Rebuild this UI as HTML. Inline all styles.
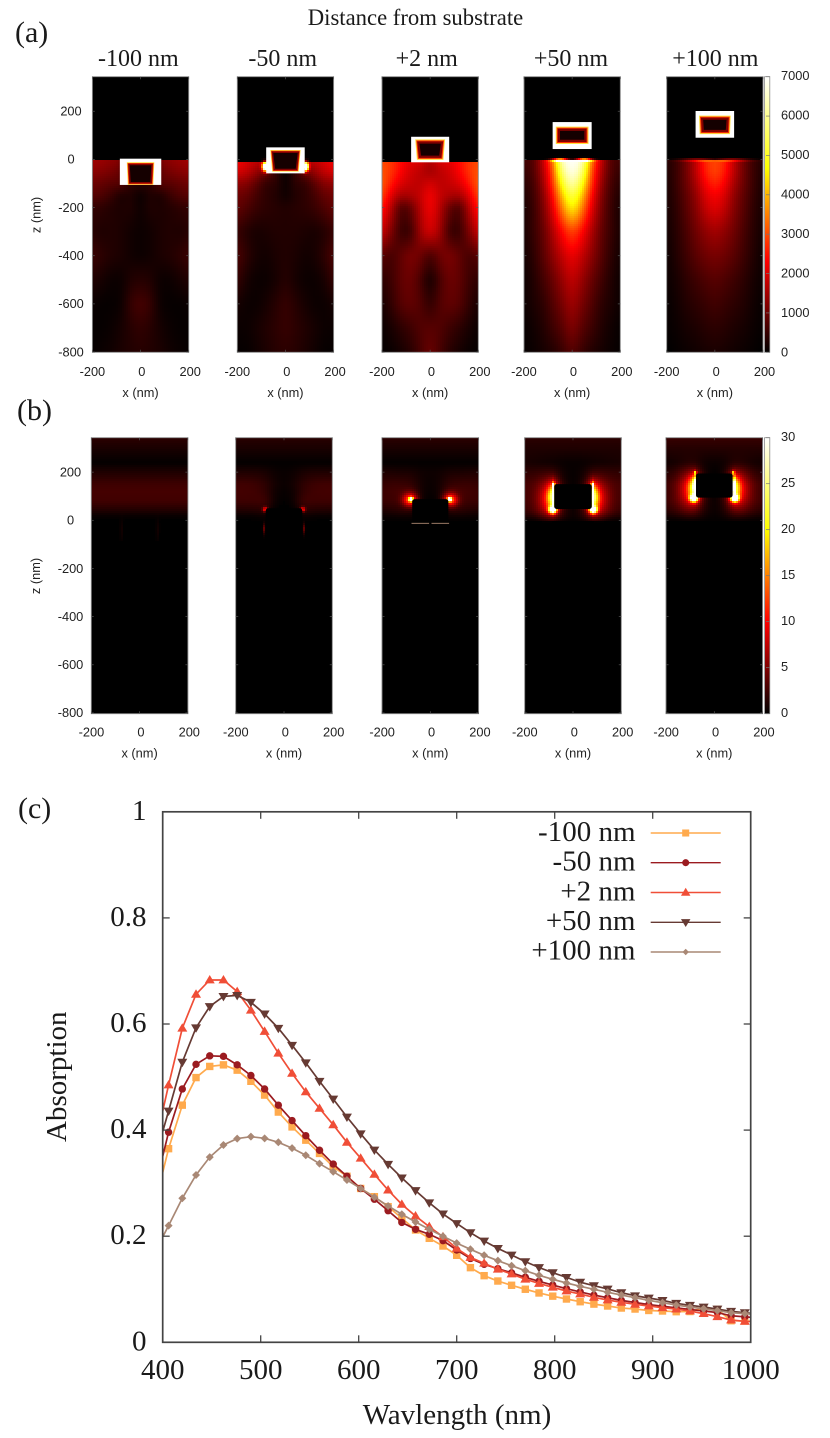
<!DOCTYPE html>
<html lang="en">
<head>
<meta charset="utf-8">
<title>Distance from substrate – field maps and absorption</title>
<style>
html,body{margin:0;padding:0;background:#fff;}
svg{display:block;}
.serif{font-family:"Liberation Serif",serif;fill:#1a1a1a;}
.sans{font-family:"Liberation Sans",sans-serif;fill:#222;font-size:12.8px;}
</style>
</head>
<body>
<svg id="figure" xmlns="http://www.w3.org/2000/svg" width="830" height="1438" viewBox="0 0 830 1438">
  <rect width="830" height="1438" fill="#fff"/>
  <text class="serif" x="415.5" y="25" font-size="22.7" text-anchor="middle">Distance from substrate</text>
  <text class="serif" x="15" y="42" font-size="30">(a)</text>
  <text class="serif" x="17" y="420" font-size="30">(b)</text>
  <text class="serif" x="18" y="818" font-size="30">(c)</text>
  <text class="serif" x="138.3" y="66" font-size="24" text-anchor="middle">-100 nm</text>
  <text class="serif" x="282.7" y="66" font-size="24" text-anchor="middle">-50 nm</text>
  <text class="serif" x="426.7" y="66" font-size="24" text-anchor="middle">+2 nm</text>
  <text class="serif" x="571" y="66" font-size="24" text-anchor="middle">+50 nm</text>
  <text class="serif" x="715.3" y="66" font-size="24" text-anchor="middle">+100 nm</text>
  <text class="sans" transform="translate(40.5,215) rotate(-90)" text-anchor="middle">z (nm)</text>
  <text class="sans" transform="translate(40,576) rotate(-90)" text-anchor="middle">z (nm)</text>
  <text class="serif" transform="translate(66,1076.7) rotate(-90)" font-size="29" text-anchor="middle">Absorption</text>
  <text class="serif" x="457" y="1424" font-size="29" text-anchor="middle">Wavlength (nm)</text>
  <text class="serif" x="635.5" y="841" font-size="29" text-anchor="end">-100 nm</text>
  <text class="serif" x="635.5" y="870.6" font-size="29" text-anchor="end">-50 nm</text>
  <text class="serif" x="635.5" y="900.3" font-size="29" text-anchor="end">+2 nm</text>
  <text class="serif" x="635.5" y="930" font-size="29" text-anchor="end">+50 nm</text>
  <text class="serif" x="635.5" y="959.6" font-size="29" text-anchor="end">+100 nm</text>
  <g id="heatmaps"></g>
  <g id="spectra"></g>
</svg>
<script>
/* ---------- Absorption spectra (panel c) ---------- */
const wavelengths = [392,406,420,434,448,462,476,490,504,518,532,546,560,574,588,602,616,630,644,658,672,686,700,714,728,742,756,770,784,798,812,826,840,854,868,882,896,910,924,938,952,966,980,994,1008];
const absMinus100 = [.26,.365,.447,.499,.52,.523,.513,.492,.466,.434,.406,.381,.356,.331,.313,.29,.2745,.2557,.234,.2117,.196,.1815,.164,.1407,.1256,.1155,.1075,.1,.093,.087,.0816,.0765,.072,.0684,.0646,.0627,.06,.059,.0577,.058,.065,.062,.0407,.04,.039];
const absMinus50 = [.29,.396,.4775,.524,.54,.539,.523,.503,.4775,.447,.418,.3895,.362,.336,.313,.29,.2697,.248,.226,.213,.2036,.1916,.174,.158,.147,.1388,.131,.1226,.115,.108,.101,.095,.089,.084,.079,.075,.071,.068,.065,.062,.059,.056,.05,.048,.046];
const absPlus2 = [.37,.485,.592,.656,.683,.683,.661,.626,.586,.545,.507,.472,.441,.41,.377,.347,.3166,.287,.26,.238,.218,.199,.177,.16,.149,.1377,.1287,.119,.111,.1037,.0967,.091,.0848,.0797,.0754,.0716,.0684,.0652,.0627,.059,.054,.0483,.042,.0396,.039];
const absPlus50 = [.345,.436,.528,.593,.633,.652,.654,.641,.619,.592,.56,.527,.492,.4586,.4247,.393,.3625,.3355,.31,.286,.263,.242,.224,.2066,.191,.177,.1646,.152,.141,.1312,.1224,.1134,.1067,.1005,.0936,.0878,.0835,.079,.0735,.0697,.0665,.0627,.0584,.0558,.053];
const absPlus100 = [.17,.22,.2715,.3154,.349,.372,.384,.3876,.3845,.377,.366,.3526,.3367,.3216,.306,.29,.2735,.257,.2414,.2268,.213,.2,.187,.1753,.164,.1539,.1444,.135,.1263,.1188,.1118,.1055,.0999,.0943,.0892,.0841,.079,.0747,.0703,.0665,.0633,.0596,.0558,.054,.052];
const xTickValues = [400,500,600,700,800,900,1000];
const yTickValues = [0,0.2,0.4,0.6,0.8,1];
const yTickLabels = ["0","0.2","0.4","0.6","0.8","1"];

/* ---------- Shared heatmap axes ---------- */
const fieldColumnsNm = [0,40,80,120,160,200];
const heatXTicks = [-200,0,200];
const heatZTicks = [200,0,-200,-400,-600,-800];
const colorbarTicksA = [0,1000,2000,3000,4000,5000,6000,7000];
const colorbarTicksB = [0,5,10,15,20,25,30];

/* ---------- Panel (a): |E|^2 in substrate, colour-bar units, rows follow zRowsA, columns follow fieldColumnsNm ---------- */
const zRowsA = [0,-50,-100,-150,-200,-300,-400,-500,-600,-700,-800];
const fieldAMinus100 = [
 [0,0,1200,1300,1400,1500],[0,0,900,1100,1200,1300],[400,400,800,800,900,1000],[50,300,200,500,700,800],
 [100,300,250,300,400,450],[100,150,250,300,250,350],[100,150,250,300,400,550],[350,300,100,100,200,300],
 [650,500,100,50,50,100],[450,350,200,100,50,50],[350,300,250,150,100,50]];
const fieldAMinus50 = [
 [0,0,1800,1800,2000,2300],[0,500,1000,1400,1800,2000],[50,400,400,800,1200,1300],[100,300,400,600,900,1000],
 [300,350,400,500,700,900],[300,300,250,200,300,500],[300,250,150,200,400,700],[350,200,100,100,200,500],
 [500,350,200,100,100,200],[500,400,300,200,100,100],[400,350,250,150,50,50]];
const fieldAPlus2 = [
 [1600,2100,2100,2400,2800,3000],[1400,1700,1900,2300,2800,3100],[2000,1700,1800,2000,2500,3200],[2300,1800,1600,1500,2000,3000],
 [2300,1700,900,600,1600,2600],[2000,1500,500,450,1100,1900],[600,1000,1150,900,600,800],[120,650,1000,900,550,400],
 [400,750,900,800,450,200],[800,750,550,400,220,80],[1000,650,350,200,80,40]];
const fieldAPlus50 = [
 [7000,6800,3400,1800,700,600],[7000,6000,3000,1600,700,450],[6500,5000,2800,1400,600,350],[5500,4200,2400,1200,550,250],
 [4800,3600,2100,1100,500,200],[3000,2400,1600,900,500,200],[2200,1800,1300,800,400,150],[1800,1400,950,600,300,100],
 [1500,1100,750,400,250,100],[1200,800,550,300,150,50],[800,500,300,200,100,50]];
const fieldAPlus100 = [
 [3000,2700,1700,1000,500,300],[3000,2600,1700,1000,500,250],[2700,2300,1500,950,500,200],[2300,2000,1300,850,450,200],
 [2100,1800,1200,800,400,200],[1500,1300,1000,650,350,150],[1100,1000,800,550,300,100],[800,700,550,400,200,100],
 [600,500,400,300,150,50],[400,350,250,200,100,50],[250,200,150,100,50,0]];
const fieldSetA = [fieldAMinus100,fieldAMinus50,fieldAPlus2,fieldAPlus50,fieldAPlus100];
const surfaceZA = [-4,-7,-13,-3,-3];
/* local hot spots: offset nm, z nm, peak, sigma x, sigma z, lowest z */
const spotsA = [[],[[84,-30,9000,8,12,-999]],[],[[50,-2,5500,22,4,-999]],[[70,-2,2200,50,3,-999]]];
const particleTopA = [3,50,94,155,201];
const particleBottomA = [-106,-58,-12,43,90];
const particleHalfA = [86,80,79,81,80];
const innerTopHalfA = [57,63,62,68,66];
const innerBottomHalfA = [53,55,55,68,63];
const innerTopInsetA = [15,11,11,19,19];
const innerBottomInsetA = [0,7,10,21,15];
const ringWidthA = [0.7,0.7,1,1,1];

/* ---------- Panel (b) ---------- */
const zRowsB = [344,300,240,200,150,120,80,40,15,0,-800];
const fieldBMinus100 = [
 [1.7,1.7,1.7,1.7,1.7,1.7],[1,1,1,1,1,1],[.1,.1,.1,.1,.1,.1],[1.2,1.2,1.2,1.2,1.2,1.2],[2.4,2.4,2.4,2.4,2.4,2.4],
 [2.7,2.7,2.7,2.7,2.7,2.7],[2.5,2.5,2.5,2.5,2.5,2.5],[1.2,1.2,1.2,1.2,1.2,1.2],[.2,.2,.2,.2,.2,.2],[.1,.1,.1,.1,.1,.1],[0,0,0,0,0,0]];
const fieldBMinus50 = [
 [1.6,1.6,1.6,1.6,1.6,1.6],[1,1,1,1,1,1],[.1,.1,.1,.1,.1,.1],[.3,.5,1,1.2,1.2,1.2],[.3,.8,1.8,2.3,2.5,2.5],
 [.2,.6,2,2.5,2.6,2.6],[0,.5,2.5,2.4,2.4,2.4],[0,0,1.5,1.3,1.2,1.2],[0,0,.5,.2,.2,.2],[.1,.1,.1,.1,.1,.1],[0,0,0,0,0,0]];
const fieldBPlus2 = [
 [1.7,1.7,1.7,1.7,1.7,1.7],[1,1,1,1,1,1],[.1,.1,.1,.1,.1,.1],[.5,.6,1,1,1.1,1.2],[.3,.8,2,2.2,2.2,2],
 [.2,.8,3,2.8,2.5,2.3],[0,.5,3,2.6,2.3,2.2],[0,.2,1.5,1.6,1.3,1.1],[0,.1,.5,.5,.4,.3],[.1,.1,.1,.1,.1,.1],[0,0,0,0,0,0]];
const fieldBPlus50 = [
 [1.7,1.7,1.7,1.7,1.7,1.7],[1.2,1.2,1.2,1.2,1.2,1.2],[.3,.3,.5,.6,.8,.9],[.2,.5,1.5,1.8,1.8,1.8],[.1,.5,2.5,3.2,2.8,2.6],
 [0,.5,2,3.5,3,2.6],[0,.5,3,3.5,3,2.5],[.3,1,3,3.2,2.6,2],[.3,.8,1.5,1.5,1.2,1],[.1,.1,.1,.1,.1,.1],[0,0,0,0,0,0]];
const fieldBPlus100 = [
 [2.2,2.2,2.2,2.2,2.2,2.2],[1.4,1.4,1.4,1.4,1.4,1.4],[.4,.5,1,1,.8,.6],[0,.3,2,2.5,1.8,1.4],[0,.3,3,3.8,3,2.2],
 [0,.3,3,3.8,3,2.2],[.3,.8,3,3.5,3,2.2],[.3,.8,2,2.5,2,1.5],[.2,.4,1,1,.8,.6],[.1,.1,.1,.1,.1,.1],[0,0,0,0,0,0]];
const fieldSetB = [fieldBMinus100,fieldBMinus50,fieldBPlus2,fieldBPlus50,fieldBPlus100];
const spotsB = [
 [[75,-40,.6,4,30,-90]],
 [[78,45,10,7,7,-60],[82,-35,4,3,14,-90]],
 [[80,87,30,6,6,0],[84,85,11,20,18,0]],
 [[82,100,24,4,30,0],[84,44,32,11,10,0],[84,98,15,16,36,0],[95,90,7,34,50,0],[81,148,20,4,6,0]],
 [[82,145,22,4,26,0],[85,92,32,11,10,0],[84,135,14,16,34,0],[95,125,7,34,50,0],[79,198,14,4,5,0]]];
const particleTopB = [0,50,88,150,195];
const particleBottomB = [0,-60,-10,47,94];
const particleHalfB = [0,76,75,78,76];

/* ---------- Layout ---------- */
const SVGNS = 'http://www.w3.org/2000/svg';
const heatRoot = document.getElementById('heatmaps');
const specRoot = document.getElementById('spectra');
const panelsA = {lefts:[92.4,237.3,382,524,666.7],width:96.3,top:76.7,bottom:352.3,zeroY:159.4,colorbarTop:76.7,colorbarBottom:352.3,yLabelX:71,xLabelY:376,xTitleY:397,max:7000,cbTicks:colorbarTicksA,colorbarCentre:[75.7,352]};
const panelsB = {lefts:[91.3,235.7,382,524.7,666],width:96.6,top:437.7,bottom:713.7,zeroY:520.3,colorbarTop:437.7,colorbarBottom:713.7,yLabelX:70.5,xLabelY:736.5,xTitleY:757.5,max:30,cbTicks:colorbarTicksB,colorbarCentre:[436.7,712.7]};
const pxPerNm = 0.2408;

function node(tag,parent,attrs){
  const el = document.createElementNS(SVGNS,tag);
  for(const k in attrs) el.setAttribute(k,attrs[k]);
  parent.appendChild(el);
  return el;
}
function clamp01(v){return Math.max(0,Math.min(1,v));}
function hotColor(t){
  const r = Math.round(255*clamp01(3*t));
  const g = Math.round(255*clamp01(3*t-1));
  const b = Math.round(255*clamp01(3*t-2));
  return 'rgb('+r+','+g+','+b+')';
}
function sampleGrid(grid,rows,xNm,zNm){
  const ax = Math.min(Math.abs(xNm),200);
  let ci = Math.min(Math.floor(ax/40),4);
  const fx = (ax-fieldColumnsNm[ci])/40;
  const zc = Math.min(rows[0],Math.max(rows[rows.length-1],zNm));
  let ri = 0;
  while(ri<rows.length-2 && zc<rows[ri+1]) ri++;
  const fz = (rows[ri]-zc)/(rows[ri]-rows[ri+1]);
  const a = grid[ri][ci]*(1-fx)+grid[ri][ci+1]*fx;
  const b = grid[ri+1][ci]*(1-fx)+grid[ri+1][ci+1]*fx;
  return a*(1-fz)+b*fz;
}
function smoothGrid(grid,rows,xNm,zNm,rx,rz){
  let sum = 0;
  for(let a=-1;a<=1;a++){
    for(let b=-1;b<=1;b++){
      const wt = (a===0?2:1)*(b===0?2:1);
      sum += wt*sampleGrid(grid,rows,xNm+a*rx,zNm+b*rz);
    }
  }
  return sum/16;
}
function spotValue(list,xNm,zNm){
  let v = 0;
  const ax = Math.abs(xNm);
  for(const s of list){
    if(zNm<s[5]) continue;
    const dx=(ax-s[0])/s[3], dz=(zNm-s[1])/s[4];
    v += s[2]*Math.exp(-0.5*(dx*dx+dz*dz));
  }
  return v;
}
function panelFrame(group,cfg,left,idx,key){
  const right = left+cfg.width, cx = left+cfg.width/2;
  const frame = node('rect',group,{x:left,y:cfg.top,width:cfg.width,height:cfg.bottom-cfg.top,fill:'none',stroke:'#8a8a8a','stroke-width':0.9});
  
  
  const zToY = z => cfg.zeroY - z*pxPerNm;
  const xToPx = x => cx + x*pxPerNm;
  for(const z of heatZTicks){
    for(const side of [left,right-2.5]){
      const t = node('line',group,{x1:side,x2:side+2.5,y1:zToY(z),y2:zToY(z),stroke:'#555','stroke-width':0.7});
      
      
    }
    if(idx===0){
      const lab = node('text',group,{x:cfg.yLabelX,y:zToY(z)+4.3,'text-anchor':'middle','class':'sans'});
      lab.textContent = String(z);
      
      
    }
  }
  for(const x of heatXTicks){
    for(const pos of [[cfg.top,cfg.top+2.5],[cfg.bottom-2.5,cfg.bottom]]){
      const t = node('line',group,{x1:xToPx(x),x2:xToPx(x),y1:pos[0],y2:pos[1],stroke:'#555','stroke-width':0.7});
      
      
    }
    const lab = node('text',group,{x:xToPx(x)+(x===200?1.5:(x===0?1.3:0)),y:cfg.xLabelY,'text-anchor':'middle','class':'sans'});
    lab.textContent = String(x);
    
    
  }
  const title = node('text',group,{x:cx,y:cfg.xTitleY,'text-anchor':'middle','class':'sans'});
  title.textContent = 'x (nm)';
  
  
}
function drawCells(group,cfg,left,valueAt){
  const cx = left+cfg.width/2;
  const startX = Math.floor(left), endX = Math.ceil(left+cfg.width);
  const startY = Math.floor(cfg.top), endY = Math.ceil(cfg.bottom);
  for(let py=startY;py<endY;py+=2){
    for(let px=startX;px<endX;px+=2){
      const x = (px+1-cx)/pxPerNm;
      const z = (cfg.zeroY-(py+1))/pxPerNm;
      const t = valueAt(x,z)/cfg.max;
      if(t<0.004) continue;
      const c = node('rect',group,{x:px,y:py,width:2,height:2,fill:hotColor(t)});
      
      
    }
  }
}
function trapezoid(group,cfg,cx,top,bottom,topHalf,botHalf,fill){
  const y1 = cfg.zeroY-top*pxPerNm, y2 = cfg.zeroY-bottom*pxPerNm;
  const pts = [[cx-topHalf*pxPerNm,y1],[cx+topHalf*pxPerNm,y1],[cx+botHalf*pxPerNm,y2],[cx-botHalf*pxPerNm,y2]];
  const p = node('polygon',group,{points:pts.map(q=>q.join(',')).join(' '),fill:fill});
  
  
}
function colorbar(group,cfg,id){
  const grad = node('linearGradient',group,{id:id,x1:0,y1:1,x2:0,y2:0});
  for(let i=0;i<=12;i++){
    const st = node('stop',grad,{offset:i/12,'stop-color':hotColor(i/12)});
  }
  const bar = node('rect',group,{x:764.6,y:cfg.colorbarTop,width:5.2,height:cfg.colorbarBottom-cfg.colorbarTop,fill:'url(#'+id+')',stroke:'#8a8a8a','stroke-width':0.8});
  
  
  cfg.cbTicks.forEach(function(v){
    const f = v/cfg.max;
    const yy = cfg.colorbarBottom-(cfg.colorbarBottom-cfg.colorbarTop)*f;
    const t = node('line',group,{x1:766,x2:769.8,y1:yy,y2:yy,stroke:'#777','stroke-width':0.7});
    
    
    const ly = cfg.colorbarCentre[1]-(cfg.colorbarCentre[1]-cfg.colorbarCentre[0])*f+4.3;
    const lab = node('text',group,{x:781,y:ly,'class':'sans'});
    lab.textContent = String(v);
    
    
  });
}
function drawPanelA(i){
  const cfg = panelsA, left = cfg.lefts[i], cx = left+cfg.width/2;
  const g = node('g',heatRoot,{});
  
  
  const clip = node('clipPath',g,{id:'clipA'+i});
  node('rect',clip,{x:left,y:cfg.top,width:cfg.width,height:cfg.bottom-cfg.top});
  const inner = node('g',g,{'clip-path':'url(#clipA'+i+')','shape-rendering':'crispEdges'});
  const bg = node('rect',inner,{x:left,y:cfg.top,width:cfg.width,height:cfg.bottom-cfg.top,fill:'#000'});
  
  
  drawCells(inner,cfg,left,function(x,z){
    let v = spotValue(spotsA[i],x,z);
    if(z<=surfaceZA[i]) v += smoothGrid(fieldSetA[i],zRowsA,x,z,20,20);
    return v;
  });
  /* metal particle */
  const pg = node('g',g,{});
  
  
  const h = particleHalfA[i]*pxPerNm;
  const box = node('rect',pg,{x:cx-h,y:cfg.zeroY-particleTopA[i]*pxPerNm,width:2*h,height:(particleTopA[i]-particleBottomA[i])*pxPerNm,fill:'#fff'});
  
  
  const top = particleTopA[i]-innerTopInsetA[i], bot = particleBottomA[i]+innerBottomInsetA[i];
  const ring = ringWidthA[i]/pxPerNm;
  const layers = ['#ffe040','#ff3000','#800000','#150000'];
  layers.forEach(function(col,j){
    const d = ring*j*(j===3?1.4:1);
    trapezoid(pg,cfg,cx,top-d,bot+d,innerTopHalfA[i]-d,innerBottomHalfA[i]-d,col);
  });
  panelFrame(g,cfg,left,i,'a');
}
function drawPanelB(i){
  const cfg = panelsB, left = cfg.lefts[i], cx = left+cfg.width/2;
  const g = node('g',heatRoot,{});
  
  
  const clip = node('clipPath',g,{id:'clipB'+i});
  node('rect',clip,{x:left,y:cfg.top,width:cfg.width,height:cfg.bottom-cfg.top});
  const inner = node('g',g,{'clip-path':'url(#clipB'+i+')','shape-rendering':'crispEdges'});
  const bg = node('rect',inner,{x:left,y:cfg.top,width:cfg.width,height:cfg.bottom-cfg.top,fill:'#000'});
  
  
  drawCells(inner,cfg,left,function(x,z){
    return smoothGrid(fieldSetB[i],zRowsB,x,z,20,8)+spotValue(spotsB[i],x,z);
  });
  if(particleHalfB[i]>0){
    const h = particleHalfB[i]*pxPerNm;
    const m = node('rect',g,{x:cx-h,y:cfg.zeroY-particleTopB[i]*pxPerNm,width:2*h,height:(particleTopB[i]-particleBottomB[i])*pxPerNm,rx:2.5,fill:'#000'});
    
    
  }
  if(i===2){
    const yb = cfg.zeroY-particleBottomB[2]*pxPerNm+0.6;
    [[-78,-5],[5,78]].forEach(function(seg){
      const l = node('line',g,{x1:cx+seg[0]*pxPerNm,x2:cx+seg[1]*pxPerNm,y1:yb,y2:yb,stroke:'#b08a74','stroke-width':0.9});
      
      
    });
  }
  panelFrame(g,cfg,left,i,'b');
}
for(let i=0;i<5;i++){ drawPanelA(i); drawPanelB(i); }
colorbar(heatRoot,panelsA,'cbarA');
colorbar(heatRoot,panelsB,'cbarB');

/* ---------- Panel (c) drawing ---------- */
const plot = {left:162.7,right:750.7,top:811.8,bottom:1342.3};
const xScale = w => plot.left+(w-400)*(plot.right-plot.left)/600;
const yScale = v => plot.bottom-v*(plot.bottom-plot.top);
const seriesList = [
 {key:'minus-100',values:absMinus100,color:'#ffaa4d',marker:'square',legendY:833},
 {key:'minus-50',values:absMinus50,color:'#9b1b20',marker:'circle',legendY:862.7},
 {key:'plus-2',values:absPlus2,color:'#f04e37',marker:'up',legendY:892.5},
 {key:'plus-50',values:absPlus50,color:'#663a33',marker:'down',legendY:922.3},
 {key:'plus-100',values:absPlus100,color:'#a98875',marker:'diamond',legendY:952}
];
function marker(parent,type,x,y,color,s){
  let el;
  if(type==='square') el = node('rect',parent,{x:x-3.7*s,y:y-3.7*s,width:7.4*s,height:7.4*s,fill:color});
  else if(type==='circle') el = node('circle',parent,{cx:x,cy:y,r:3.7*s,fill:color});
  else if(type==='up') el = node('polygon',parent,{points:(x-5*s)+','+(y+3.4*s)+' '+(x+5*s)+','+(y+3.4*s)+' '+x+','+(y-5*s),fill:color});
  else if(type==='down') el = node('polygon',parent,{points:(x-5*s)+','+(y-3.4*s)+' '+(x+5*s)+','+(y-3.4*s)+' '+x+','+(y+5*s),fill:color});
  else el = node('polygon',parent,{points:(x-4*s)+','+y+' '+x+','+(y-4*s)+' '+(x+4*s)+','+y+' '+x+','+(y+4*s),fill:color});
  return el;
}
const specClip = node('clipPath',specRoot,{id:'plotClip'});
node('rect',specClip,{x:plot.left,y:plot.top,width:plot.right-plot.left,height:plot.bottom-plot.top});
const curves = node('g',specRoot,{'clip-path':'url(#plotClip)'});


seriesList.forEach(function(s){
  const g = node('g',curves,{});
  
  
  const pts = wavelengths.map((w,i)=>xScale(w).toFixed(2)+','+yScale(s.values[i]).toFixed(2)).join(' ');
  const line = node('polyline',g,{points:pts,fill:'none',stroke:s.color,'stroke-width':1.7});
  
  
  wavelengths.forEach(function(w,i){
    const m = marker(g,s.marker,xScale(w),yScale(s.values[i]),s.color,1);
    
    
  });
});
const frameC = node('rect',specRoot,{x:plot.left,y:plot.top,width:plot.right-plot.left,height:plot.bottom-plot.top,fill:'none',stroke:'#444','stroke-width':1.7});


xTickValues.forEach(function(w){
  [[plot.bottom,plot.bottom-7],[plot.top,plot.top+7]].forEach(function(p){
    const t = node('line',specRoot,{x1:xScale(w),x2:xScale(w),y1:p[0],y2:p[1],stroke:'#444','stroke-width':1.3});
    
    
  });
  const lab = node('text',specRoot,{x:xScale(w),y:1379,'text-anchor':'middle','class':'serif','font-size':29});
  lab.textContent = String(w);
  
  
});
yTickValues.forEach(function(v,i){
  [[plot.left,plot.left+7],[plot.right,plot.right-7]].forEach(function(p){
    const t = node('line',specRoot,{x1:p[0],x2:p[1],y1:yScale(v),y2:yScale(v),stroke:'#444','stroke-width':1.3});
    
    
  });
  const lab = node('text',specRoot,{x:146.5,y:yScale(v)+8,'text-anchor':'end','class':'serif','font-size':29});
  lab.textContent = yTickLabels[i];
  
  
});
seriesList.forEach(function(s){
  const g = node('g',specRoot,{});
  
  
  const l = node('line',g,{x1:650.7,x2:720.7,y1:s.legendY,y2:s.legendY,stroke:s.color,'stroke-width':1.4});
  
  
  const m = marker(g,s.marker,685.7,s.legendY,s.color,s.marker==='diamond'?0.8:0.95);
  
  
});
</script>
</body>
</html>
